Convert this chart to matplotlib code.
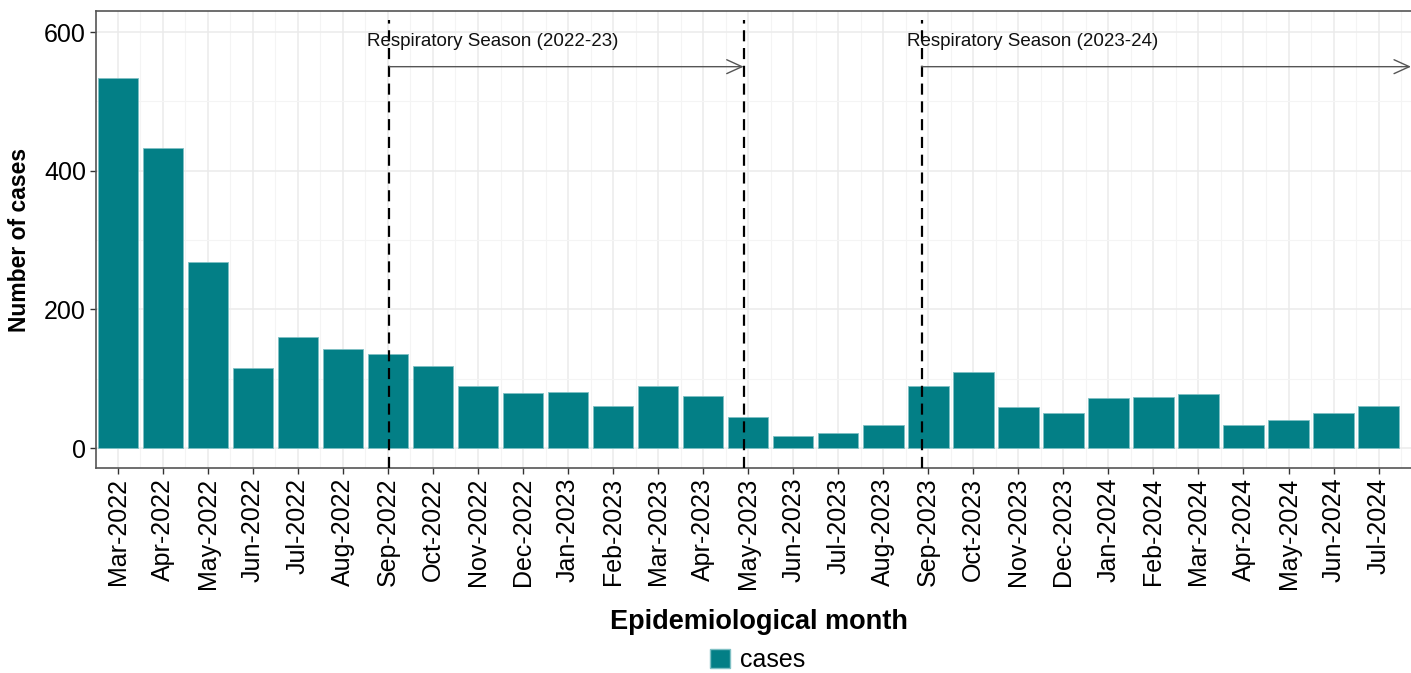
import numpy as np
import matplotlib.pyplot as plt
from matplotlib.patches import Patch
from matplotlib.ticker import MultipleLocator

plt.rcParams['font.family'] = ['Liberation Sans', 'DejaVu Sans']

# Monthly case counts
months = ["Mar-2022", "Apr-2022", "May-2022", "Jun-2022", "Jul-2022", "Aug-2022",
          "Sep-2022", "Oct-2022", "Nov-2022", "Dec-2022", "Jan-2023", "Feb-2023",
          "Mar-2023", "Apr-2023", "May-2023", "Jun-2023", "Jul-2023", "Aug-2023",
          "Sep-2023", "Oct-2023", "Nov-2023", "Dec-2023", "Jan-2024", "Feb-2024",
          "Mar-2024", "Apr-2024", "May-2024", "Jun-2024", "Jul-2024"]
cases = [534, 433, 269, 116, 160, 143, 136, 119, 89, 80, 81, 61,
         89, 75, 45, 18, 21, 33, 90, 109, 59, 50, 72, 74, 78, 33, 40, 51, 60]

# Season markers (positions on the month axis)
season_lines = [6.03, 13.9, 17.85]
season_labels = ["Respiratory Season (2022-23)", "Respiratory Season (2023-24)"]
season_spans = [(6.03, 13.9), (17.85, 28.72)]
season_text_x = [8.33, 20.31]

teal = "#037F86"

fig = plt.figure(figsize=(14.11, 6.73), dpi=100)
ax = fig.add_axes([95.7 / 1411, 1 - 468 / 673, (1411 - 95.7) / 1411, (468 - 11) / 673])

x = np.arange(len(months))
ax.bar(x, cases, width=0.9, color=teal, edgecolor="#7FC0C4", linewidth=0.6, zorder=2)

ax.set_xlim(-0.49, 28.72)
ax.set_ylim(-28.8, 630.3)

# grid like theme_bw
ax.set_xticks(x)
ax.set_xticklabels(months, rotation=90, fontsize=18)
ax.set_xticks(x + 0.5, minor=True)
ax.yaxis.set_major_locator(MultipleLocator(200))
ax.yaxis.set_minor_locator(MultipleLocator(100))
ax.tick_params(axis="y", labelsize=18)
ax.grid(which="major", color="#EBEBEB", linewidth=1.1, zorder=0)
ax.grid(which="minor", color="#F4F4F4", linewidth=0.8, zorder=0)
ax.tick_params(which="major", length=4, width=1, color="#333333", pad=3)
ax.tick_params(which="minor", length=0)
ax.set_axisbelow(True)
for side in ["left", "bottom", "top"]:
    ax.spines[side].set_color("#555555")
    ax.spines[side].set_linewidth(1.2)
ax.spines["right"].set_visible(False)

for xv in season_lines:
    ax.axvline(xv, ymax=0.98, color="black", linestyle=(0, (5, 3)), linewidth=1.6, zorder=3)

for (x0, x1), label, tx in zip(season_spans, season_labels, season_text_x):
    ax.annotate("", xy=(x1, 550), xytext=(x0, 550),
                arrowprops=dict(arrowstyle="->,head_length=1.1,head_width=0.5",
                                color="#555555", lw=1.0, shrinkA=0, shrinkB=0),
                zorder=4, annotation_clip=False)
    ax.text(tx, 587, label, ha="center", va="center", fontsize=13.5, color="#111111", zorder=4)

fig.text(20 / 1411, 1 - 240 / 673, "Number of cases", rotation=90, ha="center", va="center",
         fontsize=16.5, fontweight="bold")
fig.text(759 / 1411, 1 - 622 / 673, "Epidemiological month", ha="center", va="center",
         fontsize=19.5, fontweight="bold")

fig.legend(handles=[Patch(facecolor=teal, edgecolor="#7FC0C4", label="cases")],
           loc="center", bbox_to_anchor=(758 / 1411, 1 - 660 / 673), frameon=False,
           fontsize=18, handlelength=0.8, handleheight=0.8, handletextpad=0.4)

fig.savefig("out.png", dpi=100)
